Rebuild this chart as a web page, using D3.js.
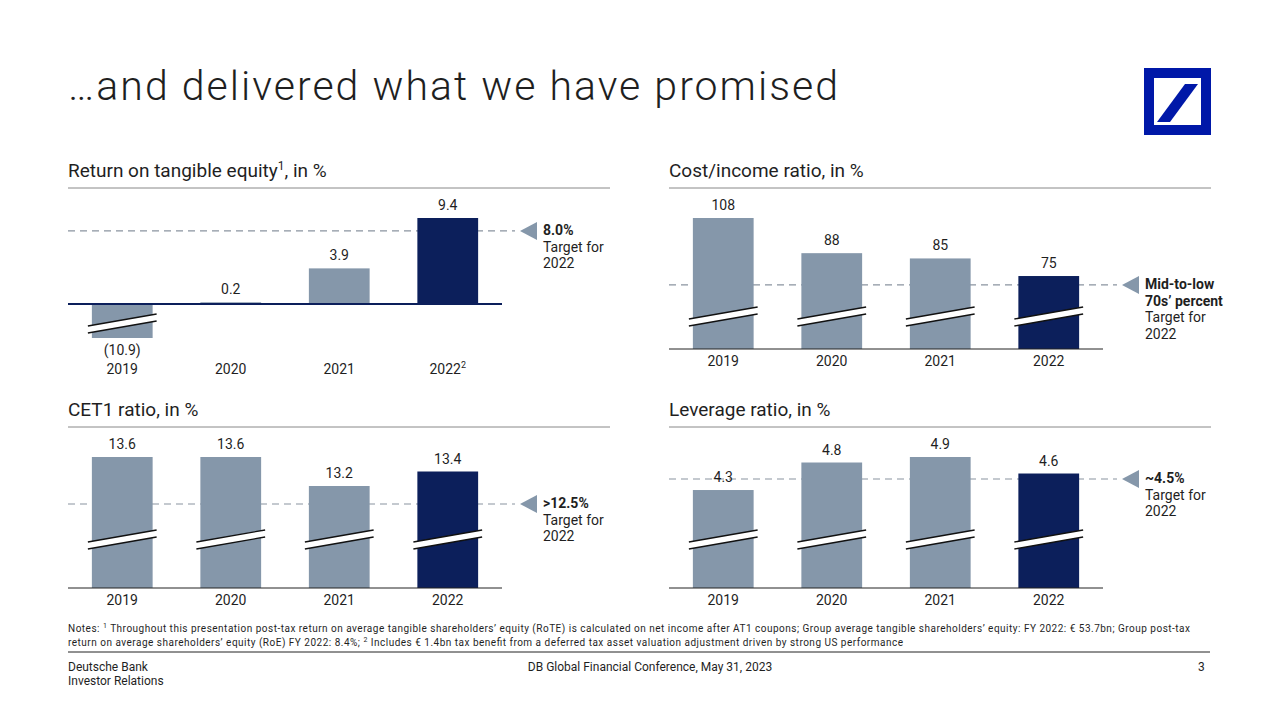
<!DOCTYPE html>
<html><head><meta charset="utf-8">
<script src="https://cdn.jsdelivr.net/npm/d3@7"></script>
<style>body{margin:0;background:#fff}svg{font-family:Roboto,"Open Sans",sans-serif}</style>
</head><body><svg id="c" width="1280" height="720"></svg>
<script>
const years = ["2019","2020","2021","2022"];
const roteValues = [-10.9, 0.2, 3.9, 9.4];
const roteLabels = ["(10.9)","0.2","3.9","9.4"];
const roteTarget = 8.0;
const cirValues = [108, 88, 85, 75];
const cirTarget = 70;
const cetValues = [13.6, 13.6, 13.2, 13.4];
const cetTarget = 12.5;
const levValues = [4.3, 4.8, 4.9, 4.6];
const levTarget = 4.5;

const GRAY="#8597aa", NAVY="#0c1f5b", TXT="#1f1f1f";
const svg=d3.select("#c");
svg.append("text").attr("x",68).attr("y",100).attr("font-size",41).attr("font-weight",300).attr("fill",TXT)
  .attr("textLength",770).attr("lengthAdjust","spacing").text("…and delivered what we have promised");
const lg=svg.append("g");
lg.append("rect").attr("x",1149).attr("y",73).attr("width",57).attr("height",57).attr("fill","none").attr("stroke","#0018a8").attr("stroke-width",10);
lg.append("polygon").attr("points","1157,122 1170,122 1198,84 1185,84").attr("fill","#0018a8");

function breakMark(g,x0,x1,yc){
  const a=[x0-4,yc+6],b=[x1+4,yc-6],gap=7;
  g.append("polygon").attr("points",`${a[0]},${a[1]} ${b[0]},${b[1]} ${b[0]},${b[1]+gap} ${a[0]},${a[1]+gap}`).attr("fill","#fff");
  [0,gap].forEach(o=>g.append("line").attr("x1",a[0]).attr("y1",a[1]+o).attr("x2",b[0]).attr("y2",b[1]+o).attr("stroke","#111").attr("stroke-width",1.3));
}
function header(x,y,w,txt,sup){
  const t=svg.append("text").attr("x",x).attr("y",y).attr("font-size",19).attr("fill",TXT);
  if(sup){t.append("tspan").text(txt[0]);t.append("tspan").attr("font-size",12).attr("dy",-7).text(sup);t.append("tspan").attr("dy",7).text(txt[1]);}
  else t.text(txt);
  svg.append("line").attr("x1",x).attr("x2",x+w).attr("y1",y+11).attr("y2",y+11).attr("stroke","#888");
}
function target(xTri,y,lines,nb){
  svg.append("polygon").attr("points",`${xTri},${y} ${xTri+17},${y-9} ${xTri+17},${y+9}`).attr("fill",GRAY);
  lines.forEach((l,i)=>svg.append("text").attr("x",xTri+23).attr("y",y+4+i*16.5).attr("font-size",14).attr("font-weight",i<nb?700:400).attr("fill",TXT).text(l));
}
function panel(o){
  const x=d3.scaleBand().domain(years).range([o.x0,o.x0+434]).paddingInner(0.44).paddingOuter(0.22);
  const y=o.y;
  const g=svg.append("g");
  g.append("line").attr("x1",o.x0).attr("x2",o.dashEnd).attr("y1",y(o.t)).attr("y2",y(o.t)).attr("stroke","#8a94a0").attr("stroke-dasharray","7,5").attr("stroke-width",1.2);
  o.vals.forEach((v,i)=>{
    const xx=x(years[i]),w=x.bandwidth();
    const top=Math.min(y(v),y(o.base)),bot=Math.max(y(v),y(o.base));
    g.append("rect").attr("x",xx).attr("y",top).attr("width",w).attr("height",bot-top).attr("fill",i==3?NAVY:GRAY);
    if(o.brk && o.brk[i]!=null) breakMark(g,xx,xx+w,o.brk[i]);
    const lab=o.labels?o.labels[i]:String(v);
    const ly=v<0?bot+17:top-8;
    g.append("text").attr("x",xx+w/2).attr("y",ly).attr("text-anchor","middle").attr("font-size",14).attr("fill",TXT).text(lab);
    const yt=g.append("text").attr("x",xx+w/2).attr("y",o.yearY).attr("text-anchor","middle").attr("font-size",14).attr("fill",TXT).text(years[i]);
    if(o.sup&&i==3) yt.append("tspan").attr("font-size",9).attr("dy",-6).text("2");
  });
  g.append("line").attr("x1",o.x0).attr("x2",o.x0+434).attr("y1",y(o.base)).attr("y2",y(o.base)).attr("stroke",o.baseCol||"#222").attr("stroke-width",o.baseW||1);
}
header(68,177,542,["Return on tangible equity",", in %"],"1");
const yR=d3.scaleLinear().domain([-3.7,9.4]).range([338,218]).clamp(true);
panel({x0:68,y:yR,vals:roteValues,labels:roteLabels,t:roteTarget,base:0,dashEnd:515,yearY:374,brk:[320],baseCol:NAVY,baseW:2,sup:true});
target(520,231,["8.0%","Target for","2022"],1);
header(669,177,542,"Cost/income ratio, in %");
const yC=d3.scaleLinear().domain([33.5,108]).range([349,218]);
panel({x0:669,y:yC,vals:cirValues,t:cirTarget,base:33.5,dashEnd:1117,yearY:366,brk:[313,313,313,313]});
target(1122,285,["Mid-to-low","70s’ percent","Target for","2022"],2);
header(68,416,542,"CET1 ratio, in %");
const yE=d3.scaleLinear().domain([11.4,12.5,13.2,13.6]).range([588,504,486,457]);
panel({x0:68,y:yE,vals:cetValues,t:cetTarget,base:11.4,dashEnd:515,yearY:605,brk:[536,536,536,536]});
target(520,504,[">12.5%","Target for","2022"],1);
header(669,416,542,"Leverage ratio, in %");
const yL=d3.scaleLinear().domain([2.52,4.9]).range([588,457]);
panel({x0:669,y:yL,vals:levValues,t:levTarget,base:2.52,dashEnd:1117,yearY:605,brk:[536,536,536,536]});
target(1122,479,["~4.5%","Target for","2022"],1);

const n1=svg.append("text").attr("x",68).attr("y",632).attr("font-size",10).attr("fill",TXT).attr("textLength",1122).attr("lengthAdjust","spacing");
n1.append("tspan").text("Notes: ");
n1.append("tspan").attr("font-size",7).attr("dy",-4).text("1");
n1.append("tspan").attr("dy",4).text(" Throughout this presentation post-tax return on average tangible shareholders’ equity (RoTE) is calculated on net income after AT1 coupons; Group average tangible shareholders’ equity: FY 2022: € 53.7bn; Group post-tax");
const n2=svg.append("text").attr("x",68).attr("y",646).attr("font-size",10).attr("fill",TXT).attr("textLength",835).attr("lengthAdjust","spacing");
n2.append("tspan").text("return on average shareholders’ equity (RoE) FY 2022: 8.4%; ");
n2.append("tspan").attr("font-size",7).attr("dy",-4).text("2");
n2.append("tspan").attr("dy",4).text(" Includes € 1.4bn tax benefit from a deferred tax asset valuation adjustment driven by strong US performance");
svg.append("line").attr("x1",68).attr("x2",1210).attr("y1",652).attr("y2",652).attr("stroke","#222");
svg.append("text").attr("x",68).attr("y",671).attr("font-size",12).attr("fill",TXT).text("Deutsche Bank");
svg.append("text").attr("x",68).attr("y",685).attr("font-size",12).attr("fill",TXT).text("Investor Relations");
svg.append("text").attr("x",650).attr("y",671).attr("text-anchor","middle").attr("font-size",12).attr("fill",TXT).text("DB Global Financial Conference, May 31, 2023");
svg.append("text").attr("x",1198).attr("y",671).attr("font-size",12).attr("fill",TXT).text("3");
</script></body></html>
